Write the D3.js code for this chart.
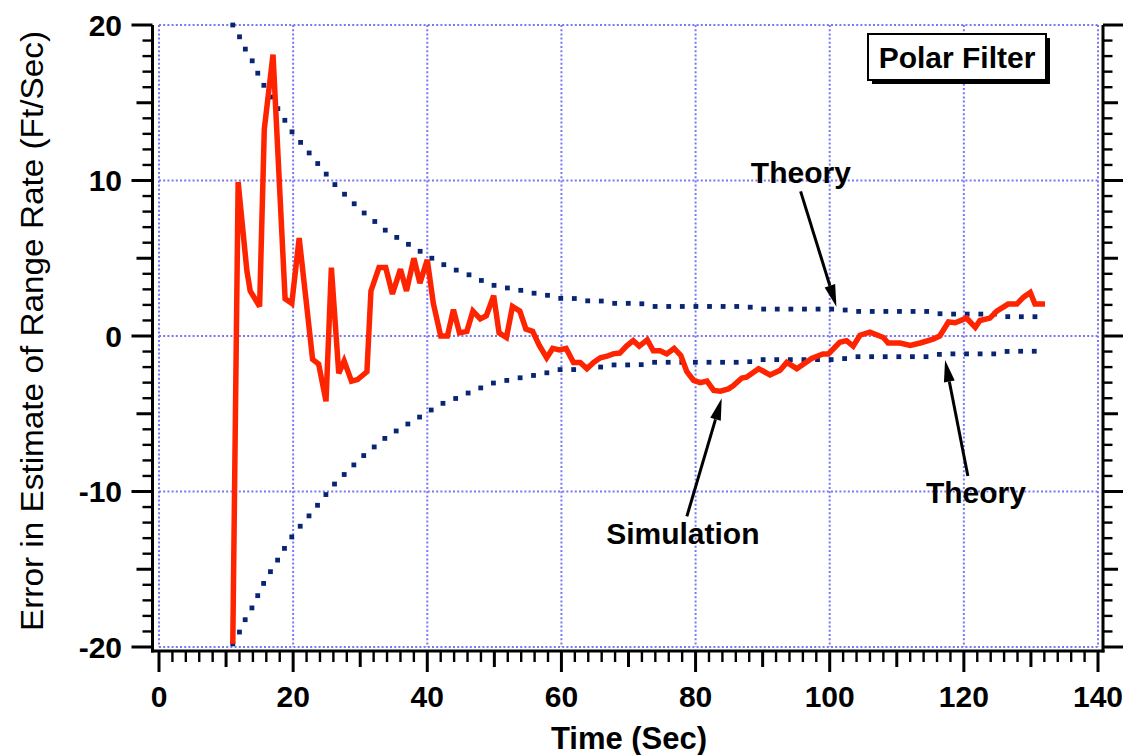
<!DOCTYPE html>
<html>
<head>
<meta charset="utf-8">
<script src="https://cdn.jsdelivr.net/npm/d3@7"></script>
<style>
  html, body { margin: 0; padding: 0; background: #fff; }
  svg { display: block; }
  text { font-family: "Liberation Sans", Arial, Helvetica, sans-serif; }
</style>
</head>
<body>
<svg id="chart" width="1127" height="755"></svg>
<script>
// ---------------- DATA ----------------
const simTime = [11.0, 11.8, 13.1, 13.6, 15.0, 15.7, 17.0, 18.8, 19.8, 20.9, 22.9, 23.8, 24.9, 25.7, 26.8, 27.6, 28.7, 29.6, 31.0, 31.6,
  32.8, 33.8, 34.8, 36.0, 36.9, 38.0, 38.9, 40.0, 40.9, 42.0, 43.0, 43.9, 44.8, 45.9, 46.8, 47.9, 48.8, 49.9, 50.7, 51.8,
  52.7, 53.8, 54.7, 55.7, 56.7, 57.8, 58.7, 59.7, 60.7, 61.8, 62.8, 63.8, 64.8, 65.8, 66.8, 67.7, 68.7, 69.7, 70.7, 71.6,
  72.8, 73.7, 74.7, 75.7, 76.8, 77.8, 78.7, 79.7, 80.7, 81.7, 82.7, 83.7, 84.9, 85.6, 86.9, 87.6, 89.4, 91.1, 92.6, 93.6,
  95.1, 97.3, 99.0, 99.8, 101.5, 102.5, 103.5, 104.5, 106.0, 108.0, 108.7, 110.5, 112.0, 113.5, 115.4, 116.4, 117.7, 118.7, 120.4, 121.7,
  122.4, 123.9, 124.9, 126.6, 127.9, 128.9, 129.9, 130.6, 132.1];
const simValue = [-19.8, 9.9, 4.2, 2.9, 1.9, 13.3, 18.1, 2.4, 2.1, 6.3, -1.5, -1.8, -4.2, 4.4, -2.4, -1.6, -2.9, -2.8, -2.3, 2.9,
  4.4, 4.4, 2.7, 4.3, 2.9, 5.0, 3.4, 4.9, 2.1, 0.0, 0.0, 1.7, 0.2, 0.3, 1.6, 1.1, 1.3, 2.6, 0.2, -0.1,
  1.9, 1.6, 0.45, 0.3, -0.6, -1.4, -0.8, -0.9, -0.8, -1.7, -1.7, -2.1, -1.7, -1.4, -1.3, -1.15, -1.1, -0.65, -0.3, -0.65,
  -0.25, -0.95, -0.95, -1.15, -0.8, -1.25, -2.3, -2.85, -3.0, -2.9, -3.5, -3.55, -3.4, -3.2, -2.7, -2.65, -2.1, -2.5, -2.2, -1.7,
  -2.1, -1.45, -1.15, -1.15, -0.4, -0.3, -0.65, 0.05, 0.25, -0.1, -0.45, -0.45, -0.6, -0.45, -0.2, 0.0, 0.9, 0.85, 1.15, 0.55,
  1.0, 1.15, 1.6, 2.05, 2.05, 2.5, 2.8, 2.05, 2.05];

const theoryTime = [11, 12.1, 13, 14.2, 15, 16.1, 17.3, 18.5, 19.7, 21.3, 22.9, 24.5, 26.1, 28.1, 30.1, 32.1, 34, 36, 38, 40,
  41.9, 43.9, 45.9, 47.9, 49.8, 51.8, 53.8, 55.8, 57.8, 59.8, 61.8, 63.8, 65.8, 67.7, 69.7, 71.7, 73.7, 79.7, 87.6, 89.6,
  101.5, 103.5, 114.7, 116.7, 124.6, 126.6, 131];
const theoryUpper = [20.0, 19.17, 18.33, 17.48, 16.6, 15.77, 14.92, 14.06, 13.2, 12.35, 11.5, 10.64, 9.79, 8.93, 8.08, 7.39, 6.71, 6.2, 5.69, 5.17,
  4.7, 4.3, 4.0, 3.6, 3.27, 3.1, 2.95, 2.76, 2.63, 2.42, 2.42, 2.26, 2.26, 2.1, 2.1, 2.1, 1.9, 1.9, 1.9, 1.73,
  1.73, 1.58, 1.58, 1.41, 1.41, 1.24, 1.24];
const theoryLower = [-19.8, -18.96, -18.1, -17.24, -16.4, -15.5, -14.7, -13.8, -12.97, -12.1, -11.3, -10.4, -9.55, -8.7, -7.84, -7.13, -6.47, -5.94, -5.43, -4.92,
  -4.4, -4.08, -3.7, -3.35, -3.03, -2.86, -2.69, -2.54, -2.37, -2.16, -2.16, -2.0, -2.0, -1.86, -1.86, -1.86, -1.69, -1.69, -1.69, -1.52,
  -1.52, -1.33, -1.33, -1.15, -1.15, -0.98, -0.98];

const xTickLabels = [0, 20, 40, 60, 80, 100, 120, 140];
const yTickLabels = [-20, -10, 0, 10, 20];

// annotations in data units: [labelT, labelV, fromT, fromV, toT, toV]
const annotationText = ["Theory", "Theory", "Simulation"];
const annotationLabelT = [95.7, 121.8, 78.1];
const annotationLabelV = [9.84, -10.74, -13.4];
const arrowFromT = [95.66, 120.6, 78.7];
const arrowFromV = [9.3, -9.0, -11.6];
const arrowToT = [101.0, 117.2, 83.9];
const arrowToV = [1.88, -1.54, -4.0];

const boxTitle = "Polar Filter";
const xTitle = "Time (Sec)";
const yTitle = "Error in Estimate of Range Rate (Ft/Sec)";

// ---------------- LAYOUT ----------------
const svg = d3.select("#chart");
const X0 = 159, X1 = 1098, Y0 = 647, Y1 = 25;
const x = d3.scaleLinear().domain([0, 140]).range([X0, X1]);
const y = d3.scaleLinear().domain([-20, 20]).range([Y0, Y1]);

svg.append("rect").attr("width", 1127).attr("height", 755).attr("fill", "#fff");

const gridColor = "#7878f5";
// grid
const grid = svg.append("g");
grid.selectAll("line.gx").data(d3.range(0, 141, 20)).join("line")
  .attr("x1", d => x(d)).attr("x2", d => x(d)).attr("y1", Y1).attr("y2", Y0)
  .attr("stroke", gridColor).attr("stroke-width", 2).attr("stroke-dasharray", "2,2.2");
grid.selectAll("line.gy").data(d3.range(-20, 21, 10)).join("line")
  .attr("x1", X0).attr("x2", X1).attr("y1", d => y(d)).attr("y2", d => y(d))
  .attr("stroke", gridColor).attr("stroke-width", 2).attr("stroke-dasharray", "2,2.2");

// axes
const LX = 152.5, RX = 1103, BY = 651;
const axG = svg.append("g").attr("stroke", "#000");
axG.append("line").attr("x1", LX).attr("x2", LX).attr("y1", Y1).attr("y2", BY + 1.5).attr("stroke-width", 3);
axG.append("line").attr("x1", RX).attr("x2", RX).attr("y1", Y1).attr("y2", BY + 1.5).attr("stroke-width", 3);
axG.append("line").attr("x1", LX - 1.5).attr("x2", RX + 1.5).attr("y1", BY).attr("y2", BY).attr("stroke-width", 3);

function tickLen(v, major, medium, lens) {
  if (Math.abs(v % major) < 1e-9) return lens[0];
  if (Math.abs(v % medium) < 1e-9) return lens[1];
  return lens[2];
}
// bottom ticks
const xt = d3.range(0, 141, 2);
axG.selectAll("line.xt").data(xt).join("line")
  .attr("x1", d => x(d)).attr("x2", d => x(d))
  .attr("y1", BY).attr("y2", d => BY + tickLen(d, 20, 10, [21, 16, 11]))
  .attr("stroke-width", d => d % 10 === 0 ? 3 : 2.4);
// left / right ticks
const yt = d3.range(-20, 21, 1);
axG.selectAll("line.yl").data(yt).join("line")
  .attr("x1", d => LX - tickLen(d, 10, 5, [21, 16, 10])).attr("x2", LX)
  .attr("y1", d => y(d)).attr("y2", d => y(d))
  .attr("stroke-width", d => d % 5 === 0 ? 3 : 2.4);
axG.selectAll("line.yr").data(yt).join("line")
  .attr("x1", RX).attr("x2", d => RX + tickLen(d, 10, 5, [20, 15, 9.5]))
  .attr("y1", d => y(d)).attr("y2", d => y(d))
  .attr("stroke-width", d => d % 5 === 0 ? 3 : 2.4);

// tick labels
svg.append("g").selectAll("text").data(xTickLabels).join("text")
  .attr("x", d => x(d)).attr("y", 707).attr("text-anchor", "middle")
  .attr("font-size", 30).attr("font-weight", "bold").text(d => d);
svg.append("g").selectAll("text").data(yTickLabels).join("text")
  .attr("x", 122).attr("y", d => y(d) + 10.8).attr("text-anchor", "end")
  .attr("font-size", 30).attr("font-weight", "bold").text(d => d);

// axis titles
svg.append("text").attr("x", 629).attr("y", 749).attr("text-anchor", "middle")
  .attr("font-size", 31).attr("font-weight", "bold").text(xTitle);
svg.append("text").attr("transform", "translate(43,331) rotate(-90)")
  .attr("text-anchor", "middle").attr("font-size", 32)
  .attr("textLength", 600).attr("lengthAdjust", "spacingAndGlyphs")
  .text(yTitle);

// theory dotted curves (square dots at equal arc length along path)
const theoryColor = "#082574";
function drawTheory(values) {
  const pts = theoryTime.map((t, i) => [x(t), y(values[i])]);
  const path = svg.append("path").attr("d", d3.line()(pts)).attr("fill", "none").attr("stroke", "none");
  const node = path.node();
  const L = node.getTotalLength();
  const step = 13.6;
  const dots = [];
  for (let s = 0; s <= L + 0.01; s += step) {
    const p = node.getPointAtLength(Math.min(s, L));
    dots.push([p.x, p.y]);
  }
  svg.append("g").selectAll("rect").data(dots).join("rect")
    .attr("x", d => d[0] - 2.4).attr("y", d => d[1] - 2.4)
    .attr("width", 4.8).attr("height", 4.8).attr("fill", theoryColor);
}
drawTheory(theoryUpper);
drawTheory(theoryLower);

// simulation line
const simLine = d3.line().x((d, i) => x(simTime[i])).y(d => y(d));
svg.append("path").attr("d", simLine(simValue)).attr("fill", "none")
  .attr("stroke", "#ff2400").attr("stroke-width", 5.5)
  .attr("stroke-linejoin", "miter").attr("stroke-miterlimit", 3);

// annotations
const ann = svg.append("g");
annotationText.forEach((txt, i) => {
  ann.append("text").attr("x", x(annotationLabelT[i])).attr("y", y(annotationLabelV[i]))
    .attr("text-anchor", "middle").attr("font-size", 30).attr("font-weight", "bold").text(txt);
  const fx = x(arrowFromT[i]), fy = y(arrowFromV[i]);
  const tx = x(arrowToT[i]), ty = y(arrowToV[i]);
  const ang = Math.atan2(ty - fy, tx - fx);
  const hl = 22, hw = 5.5;
  const bx = tx - hl * Math.cos(ang), by = ty - hl * Math.sin(ang);
  ann.append("line").attr("x1", fx).attr("y1", fy).attr("x2", bx).attr("y2", by)
    .attr("stroke", "#000").attr("stroke-width", 3);
  const px = -Math.sin(ang), py = Math.cos(ang);
  ann.append("polygon").attr("points", [
    [tx, ty], [bx + px * hw, by + py * hw], [bx - px * hw, by - py * hw]
  ].map(p => p.join(",")).join(" ")).attr("fill", "#000");
});

// title box
const bx0 = 868, by0 = 34, bw = 178, bh = 46;
svg.append("rect").attr("x", bx0 + 4).attr("y", by0 + 4).attr("width", bw).attr("height", bh).attr("fill", "#000");
svg.append("rect").attr("x", bx0).attr("y", by0).attr("width", bw).attr("height", bh)
  .attr("fill", "#fff").attr("stroke", "#000").attr("stroke-width", 2);
svg.append("text").attr("x", bx0 + bw / 2).attr("y", 68).attr("text-anchor", "middle")
  .attr("font-size", 30).attr("font-weight", "bold").text(boxTitle);
</script>
</body>
</html>
